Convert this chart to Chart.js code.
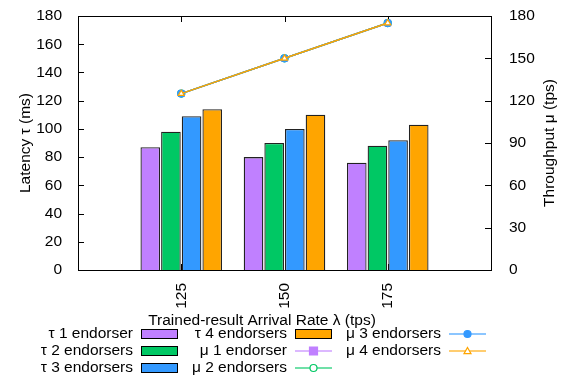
<!DOCTYPE html>
<html>
<head>
<meta charset="utf-8">
<script src="https://cdn.jsdelivr.net/npm/chart.js@4.4.1/dist/chart.umd.min.js"></script>
<style>
  html, body { margin: 0; padding: 0; background: #fff; }
</style>
</head>
<body>
<canvas id="myChart" width="565" height="379"></canvas>
<script>
// arrival rates on the x axis
var categories = ["125", "150", "175"];

// latency (left axis, bars)
var latency1 = [87, 80, 76];
var latency2 = [98, 90, 88];
var latency3 = [109, 100, 92];
var latency4 = [114, 110, 103];

// throughput (right axis, lines)
var throughput1 = [125, 150, 175];
var throughput2 = [125, 150, 175];
var throughput3 = [125, 150, 175];
var throughput4 = [125, 150, 175];

var latencyTicks = [0, 20, 40, 60, 80, 100, 120, 140, 160, 180];
var throughputTicks = [0, 30, 60, 90, 120, 150, 180];

var purple = "#c080ff";
var green = "#00c864";
var blue = "#3399ff";
var orange = "#ffa500";
var FONT = "'Liberation Sans', Arial, sans-serif";
var FS = 15.5;

// an empty slot on each side so the groups sit at 1/4, 2/4, 3/4 of the width
function pad(a) { return [null].concat(a, [null]); }
var xLabels = pad(categories).map(function (c) { return c || ""; });

function bar(label, values, color, order) {
  return {
    type: "bar", label: label, data: pad(values), yAxisID: "y",
    backgroundColor: color, borderColor: "#222", borderWidth: 1.3,
    categoryPercentage: 0.8, barPercentage: 0.95, order: order
  };
}
function line(label, values, color, style, filled, order) {
  return {
    type: "line", label: label, data: pad(values), yAxisID: "y2",
    borderColor: color, borderWidth: 1.5, backgroundColor: filled ? color : "#fff",
    pointStyle: style, pointRadius: style === "rect" ? 4 : 3.5, pointBorderWidth: 1.2,
    pointBorderColor: color, pointBackgroundColor: filled ? color : "#fff",
    fill: false, spanGaps: false, order: order
  };
}

var datasets = [
  bar("τ 1 endorser", latency1, purple, 4),
  bar("τ 2 endorsers", latency2, green, 5),
  bar("τ 3 endorsers", latency3, blue, 6),
  bar("τ 4 endorsers", latency4, orange, 7),
  line("μ 1 endorser", throughput1, purple, "rect", true, 3),
  line("μ 2 endorsers", throughput2, green, "circle", false, 2),
  line("μ 3 endorsers", throughput3, blue, "circle", true, 1),
  line("μ 4 endorsers", throughput4, orange, "triangle", false, 0)
];

function marker(ctx, ds, x, y) {
  var r = ds.pointRadius;
  ctx.save();
  ctx.fillStyle = ds.pointBackgroundColor;
  ctx.strokeStyle = ds.pointBorderColor;
  ctx.lineWidth = ds.pointBorderWidth;
  ctx.beginPath();
  if (ds.pointStyle === "rect") {
    ctx.rect(x - r, y - r, 2 * r, 2 * r);
  } else if (ds.pointStyle === "triangle") {
    ctx.moveTo(x, y - r);
    ctx.lineTo(x + r, y + r * 0.75);
    ctx.lineTo(x - r, y + r * 0.75);
    ctx.closePath();
  } else {
    ctx.arc(x, y, r, 0, Math.PI * 2);
  }
  ctx.fill();
  ctx.stroke();
  ctx.restore();
}

var frame = {
  id: "frame",
  beforeDatasetsDraw: function (chart) {
    var ctx = chart.ctx, a = chart.chartArea;
    var y = chart.scales.y, y2 = chart.scales.y2, x = chart.scales.x;
    ctx.save();
    ctx.strokeStyle = "#000";
    ctx.lineWidth = 1;
    ctx.beginPath();
    ctx.moveTo(a.left, a.top + 0.5);
    ctx.lineTo(a.right, a.top + 0.5);
    latencyTicks.forEach(function (v) {
      var p = Math.round(y.getPixelForValue(v)) + 0.5;
      ctx.moveTo(a.left, p); ctx.lineTo(a.left + 6, p);
    });
    throughputTicks.forEach(function (v) {
      var p = Math.round(y2.getPixelForValue(v)) + 0.5;
      ctx.moveTo(a.right, p); ctx.lineTo(a.right - 6, p);
    });
    categories.forEach(function (c, i) {
      var p = Math.round(x.getPixelForValue(i + 1)) + 0.5;
      ctx.moveTo(p, a.bottom); ctx.lineTo(p, a.bottom - 6);
      ctx.moveTo(p, a.top); ctx.lineTo(p, a.top + 6);
    });
    ctx.stroke();
    ctx.restore();
  },
  afterDraw: function (chart) {
    var ctx = chart.ctx, a = chart.chartArea;
    ctx.save();
    ctx.fillStyle = "#000";
    ctx.font = FS + "px " + FONT;
    ctx.textBaseline = "middle";

    // x axis title
    ctx.textAlign = "center";
    ctx.fillText("Trained-result Arrival Rate λ (tps)", 262, 321);

    // right axis title, reading upwards
    ctx.save();
    ctx.translate(550, (a.top + a.bottom) / 2);
    ctx.rotate(-Math.PI / 2);
    ctx.fillText("Throughput μ (tps)", 0, 0);
    ctx.restore();

    // legend, three rows per column
    var textRight = [133, 287, 441];
    chart.data.datasets.forEach(function (ds, i) {
      var col = Math.floor(i / 3), row = i % 3;
      var ty = 334 + row * 17;
      var tx = textRight[col];
      ctx.textAlign = "right";
      ctx.fillStyle = "#000";
      ctx.fillText(ds.label, tx, ty);
      var sx = tx + 8, sw = 37;
      if (ds.type === "bar") {
        ctx.fillStyle = ds.backgroundColor;
        ctx.fillRect(sx, ty - 4.5, sw, 9);
        ctx.strokeStyle = "#000";
        ctx.lineWidth = 1;
        ctx.strokeRect(sx + 0.5, ty - 4.5, sw - 1, 9);
      } else {
        ctx.save();
        ctx.globalAlpha = 0.75;
        ctx.strokeStyle = ds.borderColor;
        ctx.lineWidth = 1.5;
        ctx.beginPath();
        ctx.moveTo(sx, ty); ctx.lineTo(sx + sw, ty);
        ctx.stroke();
        ctx.restore();
        marker(ctx, ds, sx + sw / 2, ty);
      }
    });
    ctx.restore();
  }
};

new Chart("myChart", {
  data: { labels: xLabels, datasets: datasets },
  plugins: [frame],
  options: {
    responsive: false,
    animation: false,
    devicePixelRatio: 1,
    layout: { padding: { top: 16, bottom: 49, left: 0, right: 0 } },
    plugins: { legend: { display: false }, tooltip: { enabled: false } },
    scales: {
      x: {
        type: "category", offset: false,
        grid: { display: false },
        border: { display: true, color: "#000", width: 1 },
        ticks: {
          autoSkip: false, maxRotation: 90, minRotation: 90, padding: 5,
          color: "#000", font: { family: FONT, size: FS }
        },
        afterFit: function (s) { s.height = 60; s.paddingLeft = 0; s.paddingRight = 0; }
      },
      y: {
        position: "left", min: 0, max: 180,
        grid: { display: false },
        border: { display: true, color: "#000", width: 1 },
        ticks: {
          stepSize: 20, padding: 8, color: "#000",
          font: { family: FONT, size: FS }
        },
        title: {
          display: true, text: "Latency τ (ms)", color: "#000",
          font: { family: FONT, size: FS }, padding: { top: 16, bottom: 0 }
        },
        afterFit: function (s) { s.width = 78; s.paddingTop = 0; s.paddingBottom = 0; }
      },
      y2: {
        position: "right", min: 0, max: 180,
        grid: { display: false },
        border: { display: true, color: "#000", width: 1 },
        ticks: {
          stepSize: 30, padding: 10, color: "#000",
          font: { family: FONT, size: FS }
        },
        afterFit: function (s) { s.width = 74; s.paddingTop = 0; s.paddingBottom = 0; }
      }
    }
  }
});
</script>
</body>
</html>
